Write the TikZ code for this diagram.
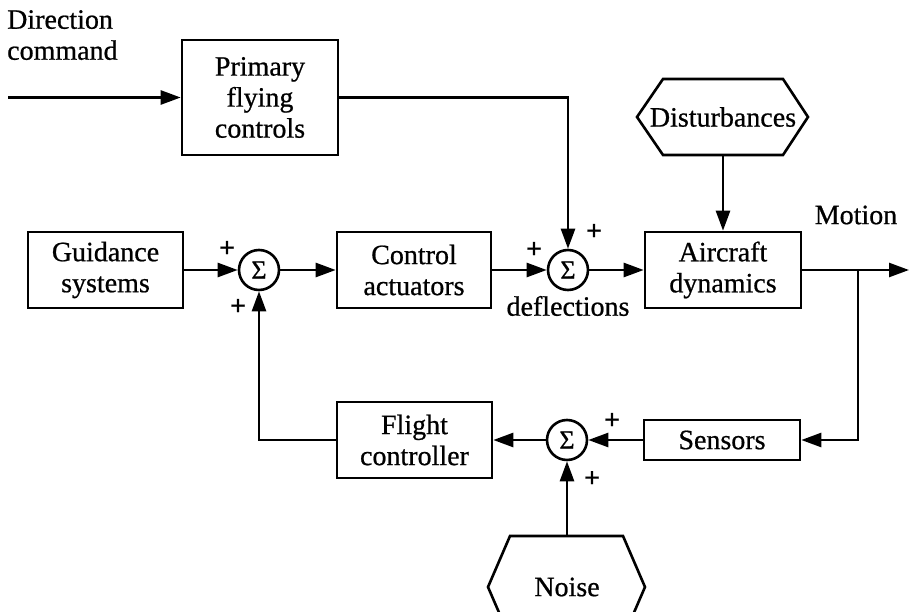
\documentclass[tikz,border=0pt]{standalone}
\usepackage{fontspec}
\setmainfont{Liberation Serif}[FakeBold=0.7]
\usetikzlibrary{arrows.meta}
\begin{document}
\begin{tikzpicture}[x=1pt,y=-1pt,
  every node/.style={font=\fontsize{28}{31}\selectfont, inner sep=0pt},
  ln/.style={line width=2.6pt},
  arr/.style={ln, -{Triangle[length=20pt,width=14pt]}},
  blk/.style={draw, ln, align=center},
  sumc/.style={draw, ln, circle, minimum size=40pt, font=\fontsize{26}{26}\selectfont},
  pl/.style={font=\bfseries\fontsize{28}{28}\selectfont}]
\clip (0,0) rectangle (910,612);
% blocks
\node[blk, minimum width=156pt, minimum height=115pt] (pfc) at (260,97.5) {Primary\\flying\\controls};
\node[blk, minimum width=155pt, minimum height=76pt] (guid) at (105.5,270) {Guidance\\systems};
\node[sumc] (s1) at (259,270) {Σ};
\node[blk, minimum width=154pt, minimum height=76pt] (act) at (414,270) {Control\\actuators};
\node[sumc] (s2) at (568,270) {Σ};
\node[blk, minimum width=156pt, minimum height=76pt] (air) at (723,270) {Aircraft\\dynamics};
\node[blk, minimum width=155pt, minimum height=76pt] (fc) at (414.5,440) {Flight\\controller};
\node[sumc] (s3) at (567,440) {Σ};
\node[blk, minimum width=156pt, minimum height=40pt] (sens) at (722,440) {Sensors};
% hexagons
\node (dist) at (723,117) {Disturbances};
\draw[ln] (663,79) -- (783,79) -- (808,117) -- (783,155) -- (663,155) -- (637,117) -- cycle;
\node (noise) at (567,587) {Noise};
\draw[ln] (510,536) -- (623,536) -- (645,587) -- (623,638) -- (510,638) -- (488,587) -- cycle;
% texts
\node[anchor=north west, align=left] (dir) at (7,10) {Direction\\command};
\node (mot) at (856,215) {Motion};
\node (defl) at (568,306) {deflections};
\node[pl] (p1) at (227,249) {+};
\node[pl] (p2) at (238,307) {+};
\node[pl] (p3) at (534,250) {+};
\node[pl] (p4) at (594,232) {+};
\node[pl] (p5) at (612,421) {+};
\node[pl] (p6) at (592,479) {+};
% connectors
\coordinate (in) at (8,97.5);
\coordinate (dbot) at (723,155);
\coordinate (ntop) at (567,536);
\coordinate (br) at (858,270);
\coordinate (out) at (909,270);
\draw[arr] (in) -- (pfc.west);
\draw[arr] (pfc.east) -| (s2.north);
\draw[arr] (guid.east) -- (s1.west);
\draw[arr] (s1.east) -- (act.west);
\draw[arr] (act.east) -- (s2.west);
\draw[arr] (s2.east) -- (air.west);
\draw[arr] (dbot) -- (air.north);
\draw[arr] (air.east) -- (out);
\draw[arr] (br) |- (sens.east);
\draw[arr] (sens.west) -- (s3.east);
\draw[arr] (s3.west) -- (fc.east);
\draw[arr] (ntop) -- (s3.south);
\draw[arr] (fc.west) -| (s1.south);
\end{tikzpicture}
\end{document}
